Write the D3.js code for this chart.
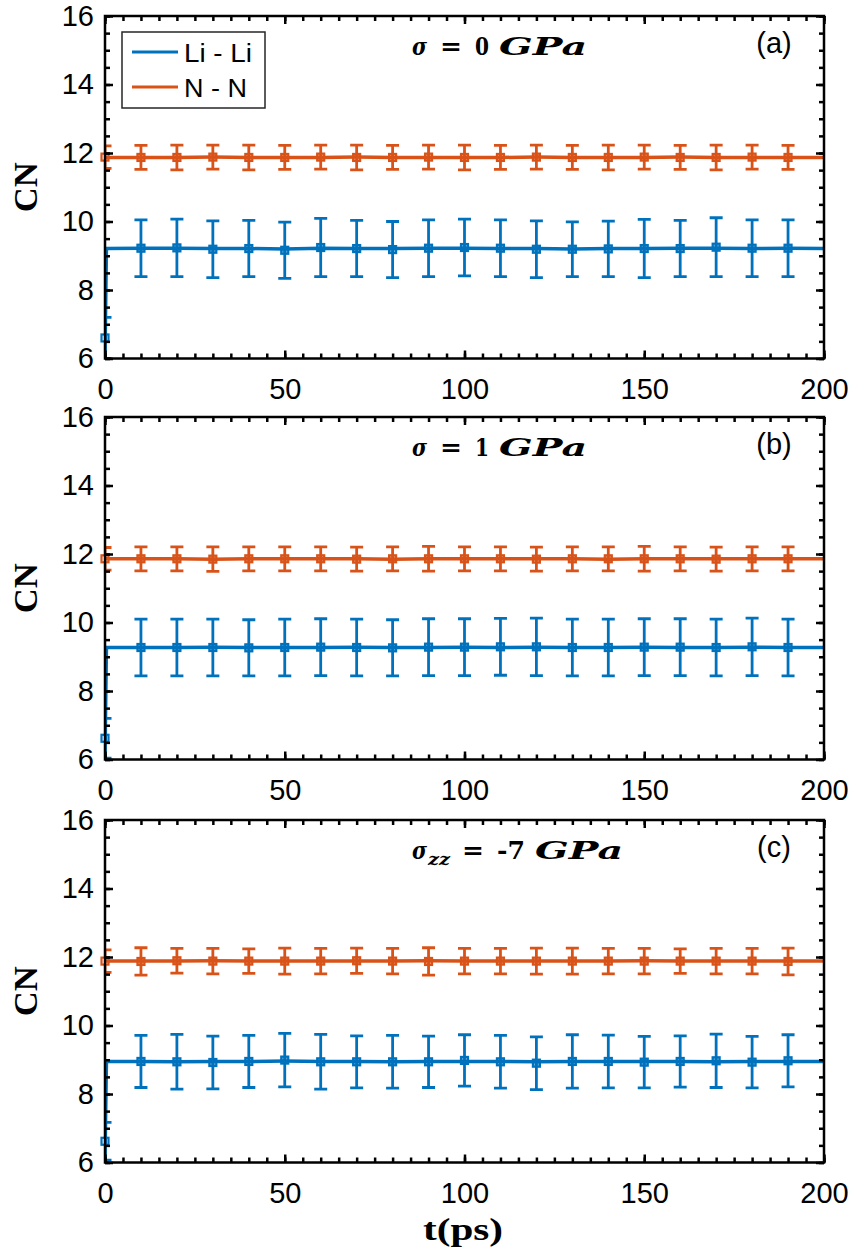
<!DOCTYPE html>
<html>
<head>
<meta charset="utf-8">
<script src="https://cdn.jsdelivr.net/npm/d3@7"></script>
<style>
  body { margin: 0; background: #fff; }
  svg { display: block; }
  .tick text { font-family: "Liberation Sans", Arial, sans-serif; font-size: 29px; fill: #000; }
</style>
</head>
<body>
<div class="cn-chart"></div>
<script>
// ---- data ----
const markT = [0, 10, 20, 30, 40, 50, 60, 70, 80, 90, 100, 110, 120, 130, 140, 150, 160, 170, 180, 190]
const lineT = [0, 0.4, 10, 20, 30, 40, 50, 60, 70, 80, 90, 100, 110, 120, 130, 140, 150, 160, 170, 180, 190, 200]
const xTicks = [0, 50, 100, 150, 200]
const yTicks = [6, 8, 10, 12, 14, 16]
const seriesNames = ["Li - Li", "N - N"]

// panel (a) sigma = 0 GPa
const liMeanA = [6.60, 9.22, 9.23, 9.19, 9.21, 9.16, 9.24, 9.21, 9.18, 9.22, 9.24, 9.22, 9.19, 9.19, 9.20, 9.21, 9.21, 9.25, 9.22, 9.22]
const liErrA  = [0.60, 0.83, 0.84, 0.83, 0.82, 0.82, 0.85, 0.82, 0.82, 0.83, 0.83, 0.83, 0.83, 0.80, 0.81, 0.85, 0.82, 0.86, 0.83, 0.83]
const nnMeanA = [11.88, 11.87, 11.87, 11.88, 11.87, 11.87, 11.88, 11.87, 11.87, 11.88, 11.87, 11.87, 11.88, 11.87, 11.87, 11.88, 11.87, 11.87, 11.88, 11.87]
const nnErrA  = [0.33, 0.35, 0.36, 0.35, 0.36, 0.35, 0.35, 0.36, 0.35, 0.35, 0.36, 0.35, 0.35, 0.35, 0.36, 0.35, 0.35, 0.36, 0.35, 0.35]
const liLineA = [6.0, 9.21, 9.22, 9.22, 9.21, 9.21, 9.20, 9.22, 9.21, 9.21, 9.22, 9.22, 9.21, 9.21, 9.20, 9.21, 9.21, 9.22, 9.22, 9.21, 9.22, 9.21]
const nnLineA = [11.88, 11.87, 11.87, 11.87, 11.88, 11.87, 11.87, 11.87, 11.88, 11.87, 11.87, 11.87, 11.87, 11.88, 11.87, 11.87, 11.87, 11.88, 11.87, 11.87, 11.87, 11.87]

// panel (b) sigma = 1 GPa
const liMeanB = [6.62, 9.27, 9.27, 9.27, 9.26, 9.27, 9.28, 9.27, 9.26, 9.28, 9.28, 9.29, 9.29, 9.27, 9.27, 9.28, 9.28, 9.27, 9.29, 9.27]
const liErrB  = [0.58, 0.83, 0.83, 0.83, 0.82, 0.83, 0.83, 0.83, 0.82, 0.83, 0.83, 0.83, 0.84, 0.83, 0.83, 0.83, 0.83, 0.83, 0.84, 0.83]
const nnMeanB = [11.86, 11.86, 11.86, 11.85, 11.86, 11.86, 11.86, 11.85, 11.86, 11.86, 11.86, 11.86, 11.85, 11.86, 11.86, 11.86, 11.86, 11.85, 11.86, 11.86]
const nnErrB  = [0.33, 0.35, 0.35, 0.36, 0.35, 0.35, 0.35, 0.35, 0.35, 0.36, 0.35, 0.35, 0.35, 0.35, 0.35, 0.36, 0.35, 0.35, 0.35, 0.35]
const liLineB = [6.0, 9.27, 9.27, 9.27, 9.28, 9.27, 9.27, 9.27, 9.28, 9.27, 9.27, 9.28, 9.27, 9.28, 9.27, 9.27, 9.28, 9.27, 9.27, 9.28, 9.27, 9.27]
const nnLineB = [11.86, 11.86, 11.86, 11.86, 11.85, 11.86, 11.86, 11.86, 11.86, 11.85, 11.86, 11.86, 11.86, 11.86, 11.86, 11.85, 11.86, 11.86, 11.86, 11.86, 11.86, 11.86]

// panel (c) sigma_zz = -7 GPa
const liMeanC = [6.62, 8.95, 8.94, 8.92, 8.95, 8.99, 8.94, 8.94, 8.94, 8.94, 8.98, 8.94, 8.90, 8.95, 8.95, 8.93, 8.95, 8.97, 8.93, 8.97]
const liErrC  = [0.55, 0.76, 0.80, 0.77, 0.76, 0.78, 0.80, 0.76, 0.77, 0.75, 0.75, 0.77, 0.77, 0.78, 0.77, 0.75, 0.75, 0.78, 0.75, 0.76]
const nnMeanC = [11.88, 11.87, 11.89, 11.88, 11.88, 11.88, 11.88, 11.89, 11.88, 11.87, 11.88, 11.88, 11.88, 11.88, 11.88, 11.88, 11.88, 11.88, 11.88, 11.87]
const nnErrC  = [0.33, 0.40, 0.36, 0.37, 0.36, 0.38, 0.37, 0.37, 0.37, 0.40, 0.37, 0.37, 0.38, 0.38, 0.37, 0.37, 0.36, 0.37, 0.37, 0.39]
const liLineC = [6.0, 8.95, 8.95, 8.94, 8.95, 8.95, 8.96, 8.95, 8.95, 8.94, 8.95, 8.95, 8.95, 8.94, 8.95, 8.95, 8.95, 8.95, 8.94, 8.95, 8.95, 8.95]
const nnLineC = [11.88, 11.88, 11.88, 11.88, 11.89, 11.88, 11.88, 11.88, 11.88, 11.88, 11.89, 11.88, 11.88, 11.88, 11.88, 11.88, 11.89, 11.88, 11.88, 11.88, 11.88, 11.88]

const panelLabels = ["(a)", "(b)", "(c)"]
const pressureVals = ["0", "1", "-7"]

// ---- layout ----
const width = 849, height = 1254
const plotLeft = 105, plotRight = 824
const panelTops = [16, 417, 820]
const panelH = 342.5
const colors = ["#0072BD", "#D95319"]
const serif = "'Liberation Serif', 'DejaVu Serif', serif"
const mathSerif = "'DejaVu Serif', serif"
const sans = "'Liberation Sans', Arial, sans-serif"

const panels = [
    { li: [liMeanA, liErrA, liLineA], nn: [nnMeanA, nnErrA, nnLineA] },
    { li: [liMeanB, liErrB, liLineB], nn: [nnMeanB, nnErrB, nnLineB] },
    { li: [liMeanC, liErrC, liLineC], nn: [nnMeanC, nnErrC, nnLineC] }
]

const svg = d3.select(".cn-chart")
    .append("svg")
    .attr("width", width)
    .attr("height", height)

const xScale = d3.scaleLinear().domain([0, 200]).range([plotLeft, plotRight])
const xMinor = d3.range(0, 201, 5)
const yMinor = d3.range(6, 16.01, 0.5)

// piece of the LaTeX-like title
function titlePiece(g, x, y, txt, w, opts) {
    const t = g.append("text")
        .attr("x", x).attr("y", y)
        .attr("font-family", mathSerif)
        .attr("font-weight", "bold")
        .attr("font-size", opts.size || 24)
        .attr("font-style", opts.italic ? "italic" : "normal")
        .text(txt)
    if (w) t.attr("textLength", w).attr("lengthAdjust", "spacingAndGlyphs")
    return t
}

panels.forEach((p, i) => {
    const top = panelTops[i]
    const bottom = top + panelH
    const yScale = d3.scaleLinear().domain([6, 16]).range([bottom, top])
    const g = svg.append("g")

    // clip so lines & bars stay in the box (markers are not clipped)
    g.append("defs").append("clipPath")
        .attr("id", "clip" + i)
        .append("rect")
        .attr("x", plotLeft).attr("y", top)
        .attr("width", plotRight - plotLeft).attr("height", panelH)

    const line = d3.line()
        .x(d => xScale(d[0]))
        .y(d => yScale(d[1]))

    const sets = [p.li, p.nn]
    sets.forEach((s, k) => {
        const [mean, err, lineVals] = s
        const col = colors[k]
        const clipped = g.append("g").attr("clip-path", `url(#clip${i})`)

        clipped.append("path")
            .datum(lineT.map((t, j) => [t, lineVals[j]]))
            .attr("fill", "none")
            .attr("stroke", col)
            .attr("stroke-width", 3.5)
            .attr("d", line)

        const bars = clipped.selectAll(".eb" + k)
            .data(markT.map((t, j) => ({ t, m: mean[j], e: err[j] })))
            .enter().append("g")
        bars.append("line")
            .attr("x1", d => xScale(d.t)).attr("x2", d => xScale(d.t))
            .attr("y1", d => yScale(d.m - d.e)).attr("y2", d => yScale(d.m + d.e))
            .attr("stroke", col).attr("stroke-width", 2.8)
        bars.append("line")
            .attr("x1", d => xScale(d.t) - 6.5).attr("x2", d => xScale(d.t) + 6.5)
            .attr("y1", d => yScale(d.m + d.e)).attr("y2", d => yScale(d.m + d.e))
            .attr("stroke", col).attr("stroke-width", 2.8)
        bars.append("line")
            .attr("x1", d => xScale(d.t) - 6.5).attr("x2", d => xScale(d.t) + 6.5)
            .attr("y1", d => yScale(d.m - d.e)).attr("y2", d => yScale(d.m - d.e))
            .attr("stroke", col).attr("stroke-width", 2.8)

        g.selectAll(".mk" + k)
            .data(markT.map((t, j) => ({ t, m: mean[j] })))
            .enter().append("rect")
            .attr("x", d => xScale(d.t) - 3.5)
            .attr("y", d => yScale(d.m) - 3.5)
            .attr("width", 7).attr("height", 7)
            .attr("fill", (d, j) => j === 0 ? "none" : col)
            .attr("fill-opacity", 0.6)
            .attr("stroke", col).attr("stroke-width", 2.2)
    })

    // axes, MATLAB style: ticks inward on all four sides
    const xAxis = d3.axisBottom(xScale).tickValues(xTicks).tickSize(-8).tickPadding(20)
    const yAxis = d3.axisLeft(yScale).tickValues(yTicks).tickSize(-8).tickPadding(11)

    g.append("g").attr("transform", `translate(0,${bottom})`).call(xAxis)
    g.append("g").attr("transform", `translate(0,${bottom})`)
        .call(d3.axisBottom(xScale).tickValues(xMinor).tickSize(-5).tickFormat(""))
    g.append("g").attr("transform", `translate(0,${top})`)
        .call(d3.axisTop(xScale).tickValues(xTicks).tickSize(-8).tickFormat(""))
    g.append("g").attr("transform", `translate(0,${top})`)
        .call(d3.axisTop(xScale).tickValues(xMinor).tickSize(-5).tickFormat(""))

    g.append("g").attr("transform", `translate(${plotLeft},0)`).call(yAxis)
    g.append("g").attr("transform", `translate(${plotLeft},0)`)
        .call(d3.axisLeft(yScale).tickValues(yMinor).tickSize(-5).tickFormat(""))
    g.append("g").attr("transform", `translate(${plotRight},0)`)
        .call(d3.axisRight(yScale).tickValues(yTicks).tickSize(-8).tickFormat(""))
    g.append("g").attr("transform", `translate(${plotRight},0)`)
        .call(d3.axisRight(yScale).tickValues(yMinor).tickSize(-5).tickFormat(""))

    g.selectAll(".domain").remove()
    g.selectAll(".tick line").attr("stroke", "#000").attr("stroke-width", 2.5)

    g.append("rect")
        .attr("x", plotLeft).attr("y", top)
        .attr("width", plotRight - plotLeft).attr("height", panelH)
        .attr("fill", "none").attr("stroke", "#000").attr("stroke-width", 2.5)

    // y label
    g.append("text")
        .attr("transform", `translate(37,${top + panelH / 2}) rotate(-90)`)
        .attr("text-anchor", "middle")
        .attr("font-family", serif)
        .attr("font-weight", "bold")
        .attr("font-size", 33)
        .attr("textLength", 50)
        .attr("lengthAdjust", "spacingAndGlyphs")
        .text("CN")

    // panel label
    g.append("text")
        .attr("x", 774).attr("y", top + 37)
        .attr("text-anchor", "middle")
        .attr("font-family", sans)
        .attr("font-size", 29)
        .text(panelLabels[i])

    // pressure title, laid out in pieces like LaTeX math
    const ty = top + 39
    const c = i === 2
    titlePiece(g, 412, ty, "σ", 15, { italic: true })
    if (c) titlePiece(g, 428, ty + 6, "zz", 22, { italic: true, size: 17 })
    titlePiece(g, c ? 462 : 440, ty, "=", 22, {})
    titlePiece(g, c ? 497 : 475, ty, pressureVals[i], c ? 28 : 14, {})
    titlePiece(g, c ? 535 : 499, ty, "GPa", 88, { italic: true, size: 25 })
})

// legend (panel a)
const legend = svg.append("g")
legend.append("rect")
    .attr("x", 122).attr("y", 32).attr("width", 143).attr("height", 76)
    .attr("fill", "#fff").attr("stroke", "#262626").attr("stroke-width", 1.5)
seriesNames.forEach((name, k) => {
    const ly = [52, 87][k]
    legend.append("line")
        .attr("x1", 132).attr("x2", 178).attr("y1", ly).attr("y2", ly)
        .attr("stroke", colors[k]).attr("stroke-width", 3)
    legend.append("text")
        .attr("x", 184).attr("y", ly + 10)
        .attr("font-family", sans)
        .attr("font-size", 25)
        .attr("textLength", [68, 63][k])
        .attr("lengthAdjust", "spacingAndGlyphs")
        .text(name)
})

// x label
svg.append("text")
    .attr("x", 463).attr("y", 1240)
    .attr("text-anchor", "middle")
    .attr("font-family", serif)
    .attr("font-weight", "bold")
    .attr("font-size", 31)
    .attr("textLength", 80)
    .attr("lengthAdjust", "spacingAndGlyphs")
    .text("t(ps)")
</script>
</body>
</html>
